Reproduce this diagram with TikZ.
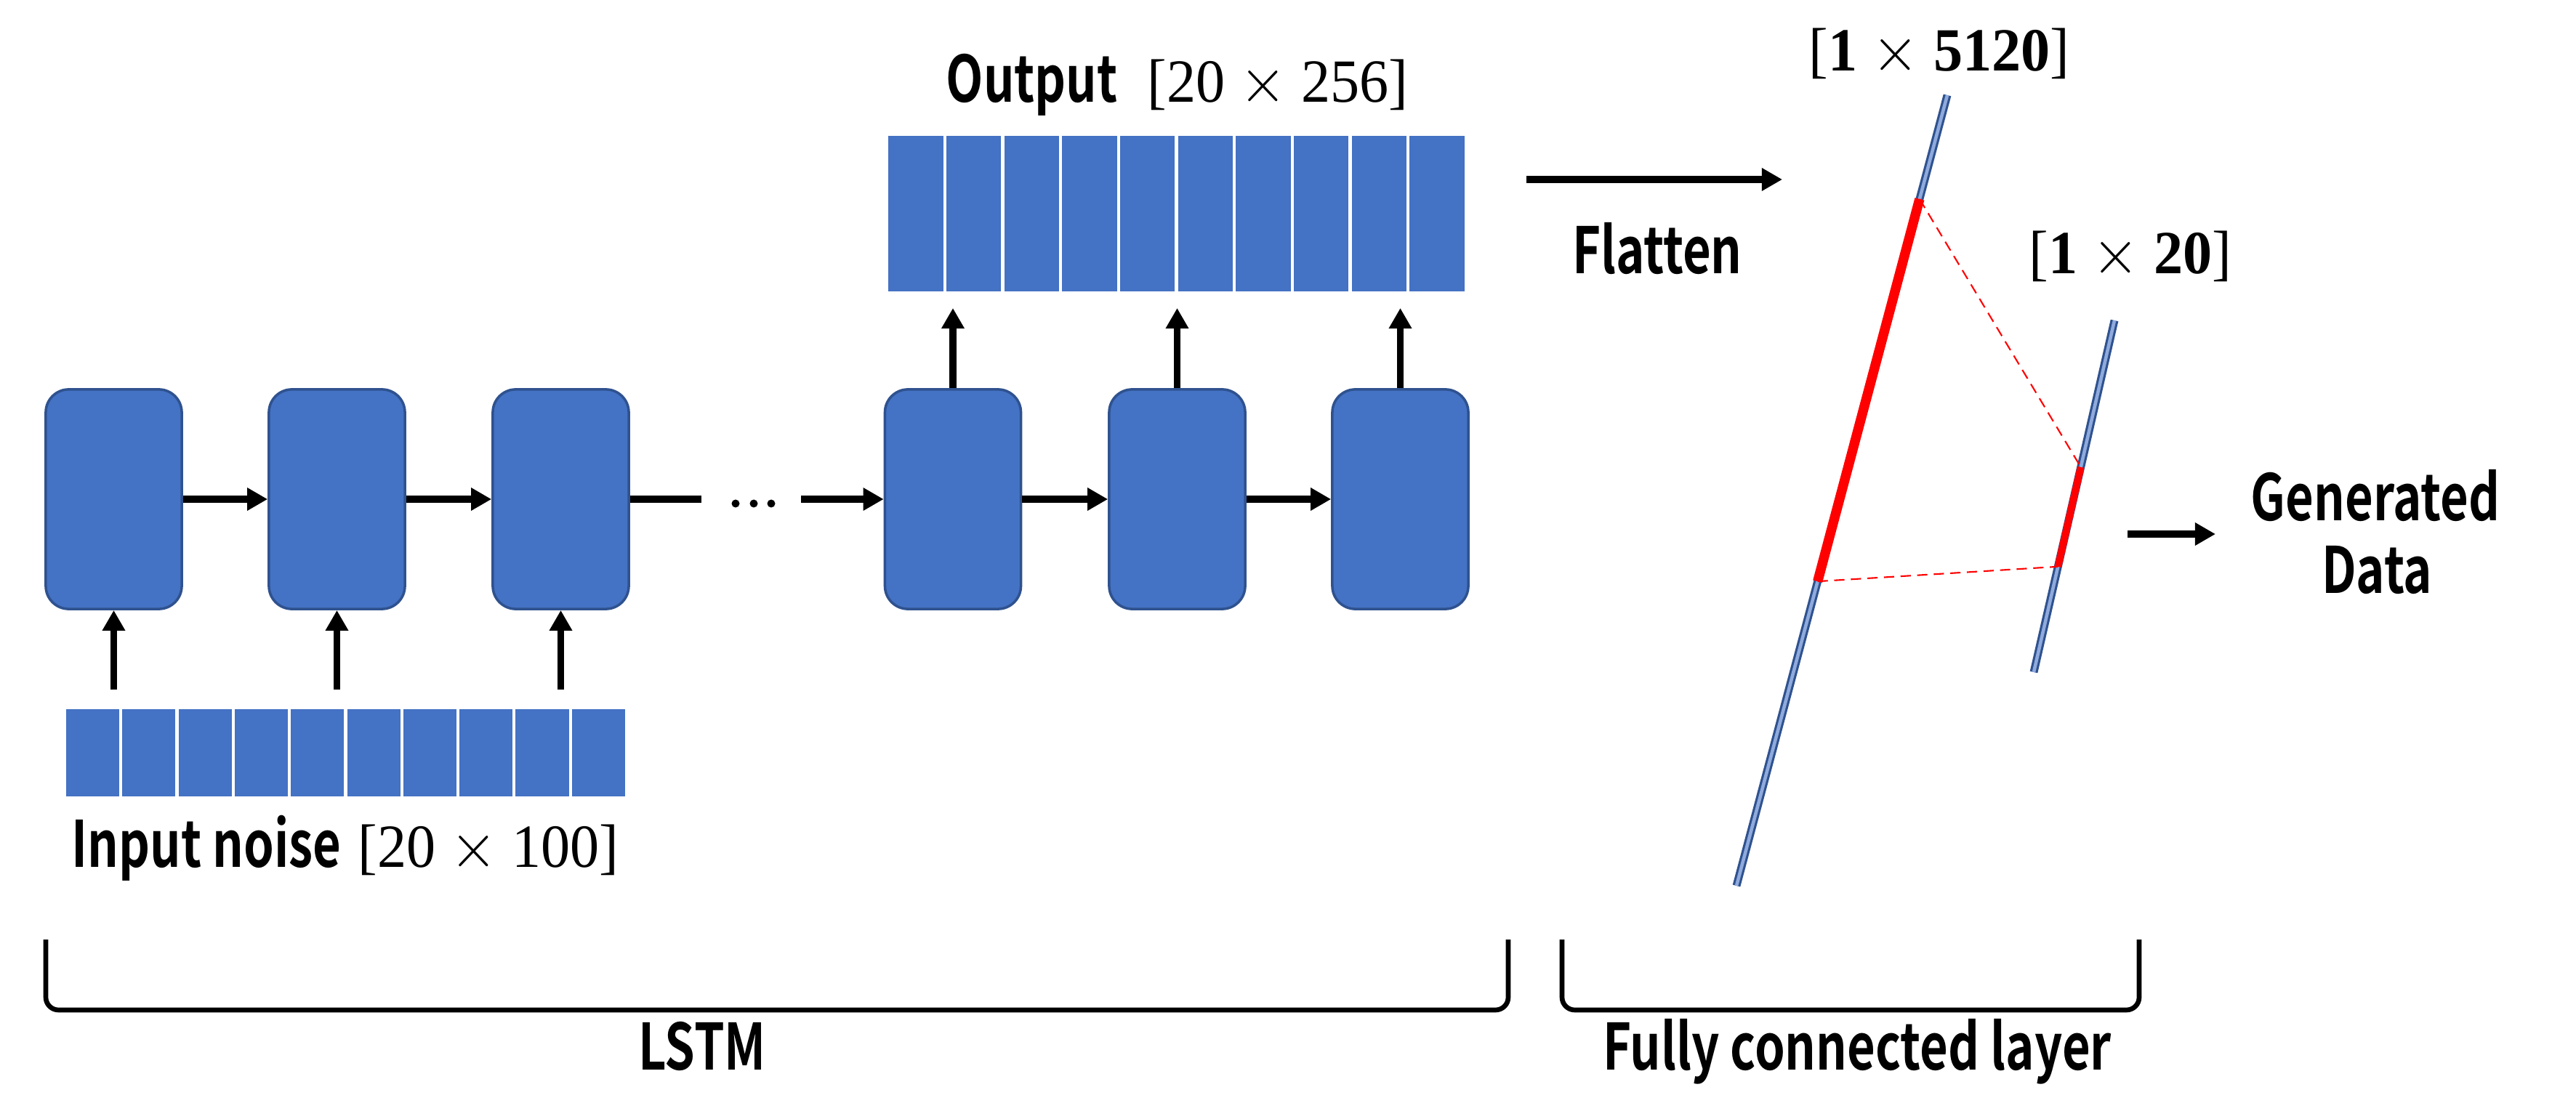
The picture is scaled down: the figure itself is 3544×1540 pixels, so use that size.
\documentclass[tikz,border=0pt]{standalone}
\usepackage{fontspec}
\usepackage{graphicx}
\usetikzlibrary{arrows.meta,calc}
\newfontfamily\lblfont{Noto Sans CJK KR Bold}[FakeStretch=0.76]
\newfontfamily\numfont{Liberation Serif}
\definecolor{cellblue}{HTML}{4472C4}
\definecolor{edgeblue}{HTML}{2F528F}
\definecolor{lightbar}{HTML}{8FAADC}
\definecolor{segred}{HTML}{FF0000}
\newcommand\mq[1]{\scalebox{0.95}[1]{#1}}
\newcommand\tms{~$\times$~}
\tikzset{
  cell/.style={draw=edgeblue, fill=cellblue, line width=1pt, rounded corners=9pt,
    minimum width=1.87cm, minimum height=3.02cm, inner sep=0pt},
  instrip/.style={draw=white, fill=cellblue, line width=1.2pt,
    minimum width=0.773cm, minimum height=1.24cm, inner sep=0pt},
  outstrip/.style={draw=white, fill=cellblue, line width=1.2pt,
    minimum width=0.797cm, minimum height=2.18cm, inner sep=0pt},
  arr/.style={line width=2.6pt, -{Triangle[length=8pt,width=8.5pt]}},
  plainln/.style={line width=2.6pt},
  bar/.style={draw=edgeblue, line width=0.9pt, double=lightbar, double distance=1.3pt},
  redseg/.style={draw=segred, line width=3.8pt},
  redsmall/.style={draw=segred, line width=2.8pt},
  dashln/.style={draw=segred, line width=0.6pt, dash pattern=on 4pt off 2.5pt},
  brk/.style={line width=1.9pt, rounded corners=5pt},
  lbl/.style={inner sep=0pt, font=\lblfont\fontsize{25}{30}\selectfont},
  mth/.style={inner sep=0pt, font=\numfont\fontsize{24}{29}\selectfont},
}
\begin{document}
\begin{tikzpicture}[x=0.01cm, y=-0.01cm]
\useasboundingbox (0,0) rectangle (3544,1540);

% LSTM cells
\node[cell] (c1) at (156.5,687) {};
\node[cell] (c2) at (463.5,687) {};
\node[cell] (c3) at (771.5,687) {};
\node[cell] (c4) at (1311,687) {};
\node[cell] (c5) at (1619.5,687) {};
\node[cell] (c6) at (1926.5,687) {};

% recurrent arrows
\draw[arr] (c1.east) -- (c2.west);
\draw[arr] (c2.east) -- (c3.west);
\coordinate (g1) at (965,687);
\coordinate (g2) at (1102,687);
\draw[plainln] (c3.east) -- (g1);
\draw[arr] (g2) -- (c4.west);
\draw[arr] (c4.east) -- (c5.west);
\draw[arr] (c5.east) -- (c6.west);
\fill (1012,693) circle (5.5);
\fill (1037,693) circle (5.5);
\fill (1061,693) circle (5.5);

% input strip
\foreach \i in {1,...,10}{
  \node[instrip] (in\i) at ({89+77.3*(\i-0.5)},1036) {};
}
% output strip
\foreach \i in {1,...,10}{
  \node[outstrip] (out\i) at ({1220+79.7*(\i-0.5)},294) {};
}

% input arrows
\coordinate (u1) at (156.5,949);
\coordinate (u2) at (463.5,949);
\coordinate (u3) at (771.5,949);
\draw[arr] (u1) -- (c1.south);
\draw[arr] (u2) -- (c2.south);
\draw[arr] (u3) -- (c3.south);

% output arrows
\coordinate (o4) at (1311,424);
\coordinate (o5) at (1619.5,424);
\coordinate (o6) at (1926.5,424);
\draw[arr] (c4.north) -- (o4);
\draw[arr] (c5.north) -- (o5);
\draw[arr] (c6.north) -- (o6);

% labels LSTM part
\node[lbl, anchor=base west] (outl) at (1301,141) {Output};
\node[mth, anchor=base west] (outm) at (1578,141) {\mq{[20\tms 256]}};
\node[lbl, anchor=base west] (inl) at (98,1193) {Input noise};
\node[mth, anchor=base west] (inm) at (492,1193) {\mq{[20\tms 100]}};

% flatten
\coordinate (f1) at (2100,247);
\coordinate (f2) at (2452,247);
\draw[arr] (f1) -- (f2);
\node[lbl, anchor=base] (flat) at (2280,377) {Flatten};

% fully connected bars
\coordinate (A1) at (2679,131);
\coordinate (A2) at (2389,1219);
\coordinate (B1) at (2909,441);
\coordinate (B2) at (2798,925);
\draw[bar] (A1) -- (A2);
\draw[bar] (B1) -- (B2);
\coordinate (R1) at ($(A1)!0.1314!(A2)$);
\coordinate (R2) at ($(A1)!0.615!(A2)$);
\coordinate (S1) at ($(B1)!0.417!(B2)$);
\coordinate (S2) at ($(B1)!0.70!(B2)$);
\draw[redseg] (R1) -- (R2);
\draw[redsmall] (S1) -- (S2);
\draw[dashln] (R1) -- (S1);
\draw[dashln] (R2) -- (S2);
\node[mth, anchor=base] (big) at (2668,98) {\mq{[\textbf{1}\tms\textbf{5120}]}};
\node[mth, anchor=base] (small) at (2931,377) {\mq{[\textbf{1}\tms\textbf{20}]}};

% generated data
\coordinate (h1) at (2927,735);
\coordinate (h2) at (3048,735);
\draw[arr] (h1) -- (h2);
\node[lbl, anchor=base] (gen) at (3268,717) {Generated};
\node[lbl, anchor=base] (data) at (3270,817) {Data};

% brackets
\draw[brk] (63,1293) -- (63,1390) -- (2075,1390) -- (2075,1293);
\draw[brk] (2149,1293) -- (2149,1390) -- (2943,1390) -- (2943,1293);
\node[lbl, anchor=base] (lstm) at (966,1472) {LSTM};
\node[lbl, anchor=base] (fc) at (2555,1472) {Fully connected layer};
\end{tikzpicture}
\end{document}
